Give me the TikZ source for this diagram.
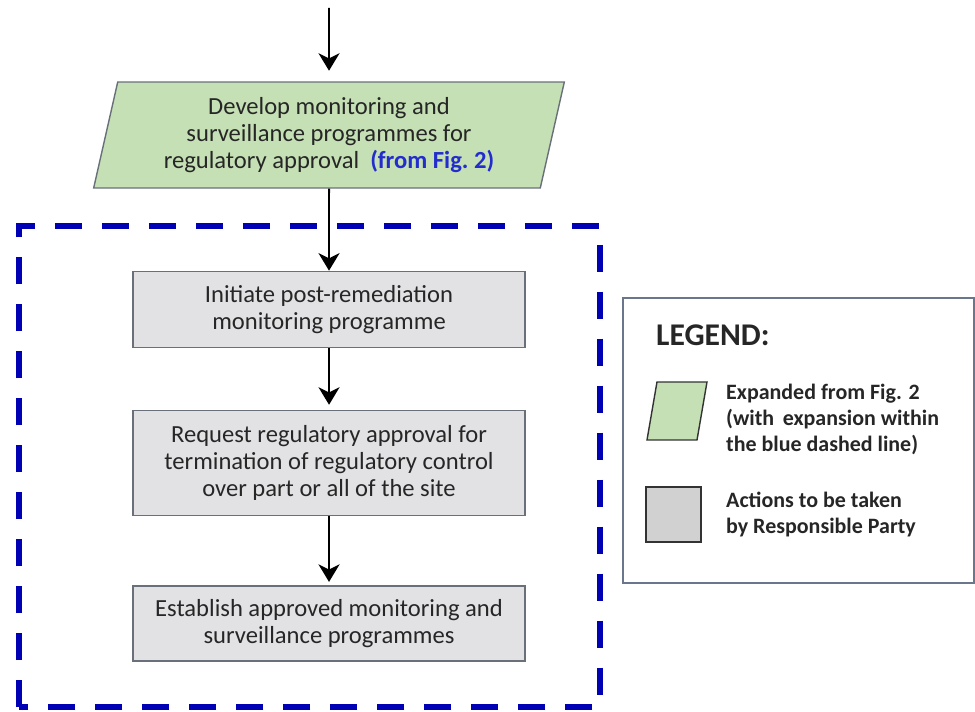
\documentclass[tikz,border=0pt]{standalone}
\usepackage{fontspec}
\setmainfont{Carlito}
\usepackage{tikz}
\usetikzlibrary{positioning, shapes.geometric, arrows.meta}

\definecolor{stepgreen}{RGB}{197,224,180}
\definecolor{stepgray}{RGB}{226,226,228}
\definecolor{edgegray}{RGB}{105,112,122}
\definecolor{dashblue}{RGB}{0,0,180}
\definecolor{figblue}{RGB}{35,45,205}
\definecolor{legendedge}{RGB}{105,118,140}

\begin{document}
\begin{tikzpicture}[x=0.02cm, y=-0.02cm,
        every node/.style={font=\fontsize{14}{15.4}\selectfont, text=black!85},
        actionbox/.style={draw=edgegray, fill=stepgray, line width=0.8pt,
            minimum width=7.84cm, align=center, inner sep=0pt},
        inputbox/.style={trapezium, trapezium left angle=76, trapezium right angle=104,
            trapezium stretches=true, draw=edgegray, fill=stepgreen, line width=0.8pt,
            minimum width=9.44cm, minimum height=2.12cm, align=center, inner sep=0pt},
        keytext/.style={anchor=west, align=left, font=\fontsize{12.5}{14.8}\selectfont\bfseries},
        flow/.style={-{Stealth[length=10pt, width=12pt, inset=3pt]}, line width=1.1pt, black}]
    \useasboundingbox (0,0) rectangle (975,712);

    % main chain
    \coordinate (in) at (329,8);
    \node[inputbox] (develop) at (329,135) {Develop monitoring and\\surveillance programmes for\\regulatory approval\ \ {\bfseries\color{figblue}(from Fig.~2)}};
    \node[actionbox, minimum height=1.52cm, below=1.64cm of develop] (initiate) {Initiate post-remediation\\monitoring programme};
    \node[actionbox, minimum height=2.1cm, below=1.24cm of initiate] (request) {Request regulatory approval for\\termination of regulatory control\\over part or all of the site};
    \node[actionbox, minimum height=1.5cm, below=1.38cm of request] (establish) {Establish approved monitoring and\\surveillance programmes};

    \draw[flow, shorten >=6pt] (in) -- (develop);
    \draw[flow] (develop) -- (initiate);
    \draw[flow, shorten >=3pt] (initiate) -- (request);
    \draw[flow, shorten >=2pt] (request) -- (establish);

    % expansion boundary
    \draw[dashblue, line width=3pt, dash pattern=on 0.54cm off 0.4cm]
        (19,707) -- (19,226) -- (600,226) -- (600,707) -- cycle;

    % legend
    \draw[legendedge, line width=0.8pt] (623,298) rectangle (974,583);
    \node[anchor=west, font=\fontsize{18}{20}\selectfont\bfseries] (legend) at (650,335) {LEGEND:};
    \node[trapezium, trapezium left angle=76, trapezium right angle=104, trapezium stretches=true,
        draw=black!80, fill=stepgreen, line width=0.8pt, minimum width=1.2cm, minimum height=1.16cm,
        inner sep=2pt] (keyinput) at (677,411) {};
    \node[draw=black!80, fill=black!18, line width=0.8pt, minimum size=1.1cm, inner sep=0pt]
        (keyaction) at (673.5,514.5) {};
    \node[keytext] (keyinputtext) at (720,419)
        {Expanded from Fig. 2\\(with\ \,expansion within\\the blue dashed line)};
    \node[keytext] (keyactiontext) at (720,515)
        {Actions to be taken\\by Responsible Party};
\end{tikzpicture}
\end{document}
